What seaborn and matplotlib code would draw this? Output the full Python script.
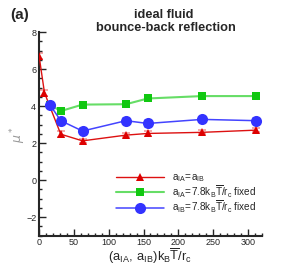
import numpy as np
import seaborn as sns
import matplotlib.pyplot as plt
from matplotlib.ticker import MultipleLocator

# data
x_red = [0, 7.8, 31.2, 62.4, 124.8, 156, 234, 312]
y_red = [6.72, 4.72, 2.48, 2.12, 2.43, 2.52, 2.58, 2.70]
e_red = [0.15, 0.15, 0.15, 0.10, 0.12, 0.14, 0.10, 0.12]

x_green = [15.6, 31.2, 62.4, 124.8, 156, 234, 312]
y_green = [4.07, 3.73, 4.08, 4.10, 4.41, 4.54, 4.54]
e_green = [0.15, 0.15, 0.14, 0.14, 0.15, 0.12, 0.15]

x_blue = [15.6, 31.2, 62.4, 124.8, 156, 234, 312]
y_blue = [4.07, 3.21, 2.65, 3.21, 3.06, 3.28, 3.21]
e_blue = [0.15, 0.12, 0.14, 0.14, 0.20, 0.15, 0.12]

labels = [r'$\mathregular{a_{IA}\!=\!a_{IB}}$',
          r'$\mathregular{a_{IA}\!=\!7.8k_B\overline{T}/r_c}$ fixed',
          r'$\mathregular{a_{IB}\!=\!7.8k_B\overline{T}/r_c}$ fixed']

sns.set_style('ticks')
plt.rcParams['font.family'] = ['Liberation Sans', 'DejaVu Sans']

fig = plt.figure(figsize=(2.98, 2.65), dpi=100)
ax = fig.add_axes([0.131, 0.111, 0.748, 0.768])

# x, y, err, line colour, marker colour, marker, size, line width, label
series = [
    (x_red, y_red, e_red, '#dd1111', '#dd0000', '^', 6, 1.0, labels[0]),
    (x_green, y_green, e_green, '#66dd66', '#11c811', 's', 6, 1.5, labels[1]),
    (x_blue, y_blue, e_blue, '#4444ff', '#3333ff', 'o', 8, 1.1, labels[2]),
]
for xs, ys, es, lc, mc, mk, ms, lw, lab in series:
    ax.errorbar(xs, ys, yerr=es, fmt='none', ecolor=mc, alpha=0.4,
                elinewidth=1.2, capsize=3, capthick=1.2, zorder=2)
    sns.lineplot(x=xs, y=ys, ax=ax, color=lc, marker=mk, markersize=ms,
                 markerfacecolor=mc, markeredgewidth=0, linewidth=lw,
                 label=lab, zorder=3)

ax.set_xlim(0, 320)
ax.set_ylim(-3, 8)
ax.xaxis.set_major_locator(MultipleLocator(50))
ax.xaxis.set_minor_locator(MultipleLocator(10))
ax.yaxis.set_major_locator(MultipleLocator(2))
ax.yaxis.set_minor_locator(MultipleLocator(0.5))
ax.tick_params(which='both', direction='in', labelsize=6.5, width=1.0, pad=2)
ax.tick_params(axis='x', pad=1.5)
ax.tick_params(which='major', length=5)
ax.tick_params(which='minor', length=2.5)
for s in ['left', 'bottom']:
    ax.spines[s].set_linewidth(1.5)
sns.despine(ax=ax)

ax.set_xlabel(r'$\mathregular{(a_{IA},\, a_{IB})k_B\overline{T}/r_c}$', fontsize=9.3)
ax.xaxis.set_label_coords(0.5, -0.1)
ax.xaxis.label.set_verticalalignment('center')
ax.set_ylabel(r'$\mu^*$', fontsize=9, color='#999999')
ax.yaxis.set_label_coords(-0.095, 0.495)
ax.yaxis.label.set_verticalalignment('center')

fig.text(0.55, 0.945, 'ideal fluid', ha='center', va='center',
         fontsize=9.2, fontweight='bold')
fig.text(0.555, 0.895, 'bounce-back reflection', ha='center', va='center',
         fontsize=9.2, fontweight='bold')
fig.text(0.035, 0.945, '(a)', ha='left', va='center', fontsize=11, fontweight='bold')

ax.legend(loc='upper left', bbox_to_anchor=(0.345, 0.31), frameon=False,
          fontsize=7.2, handlelength=4.8, handletextpad=0.8, labelspacing=-0.1,
          borderpad=0.0, borderaxespad=0.0)

fig.savefig('out.png', dpi=100)
